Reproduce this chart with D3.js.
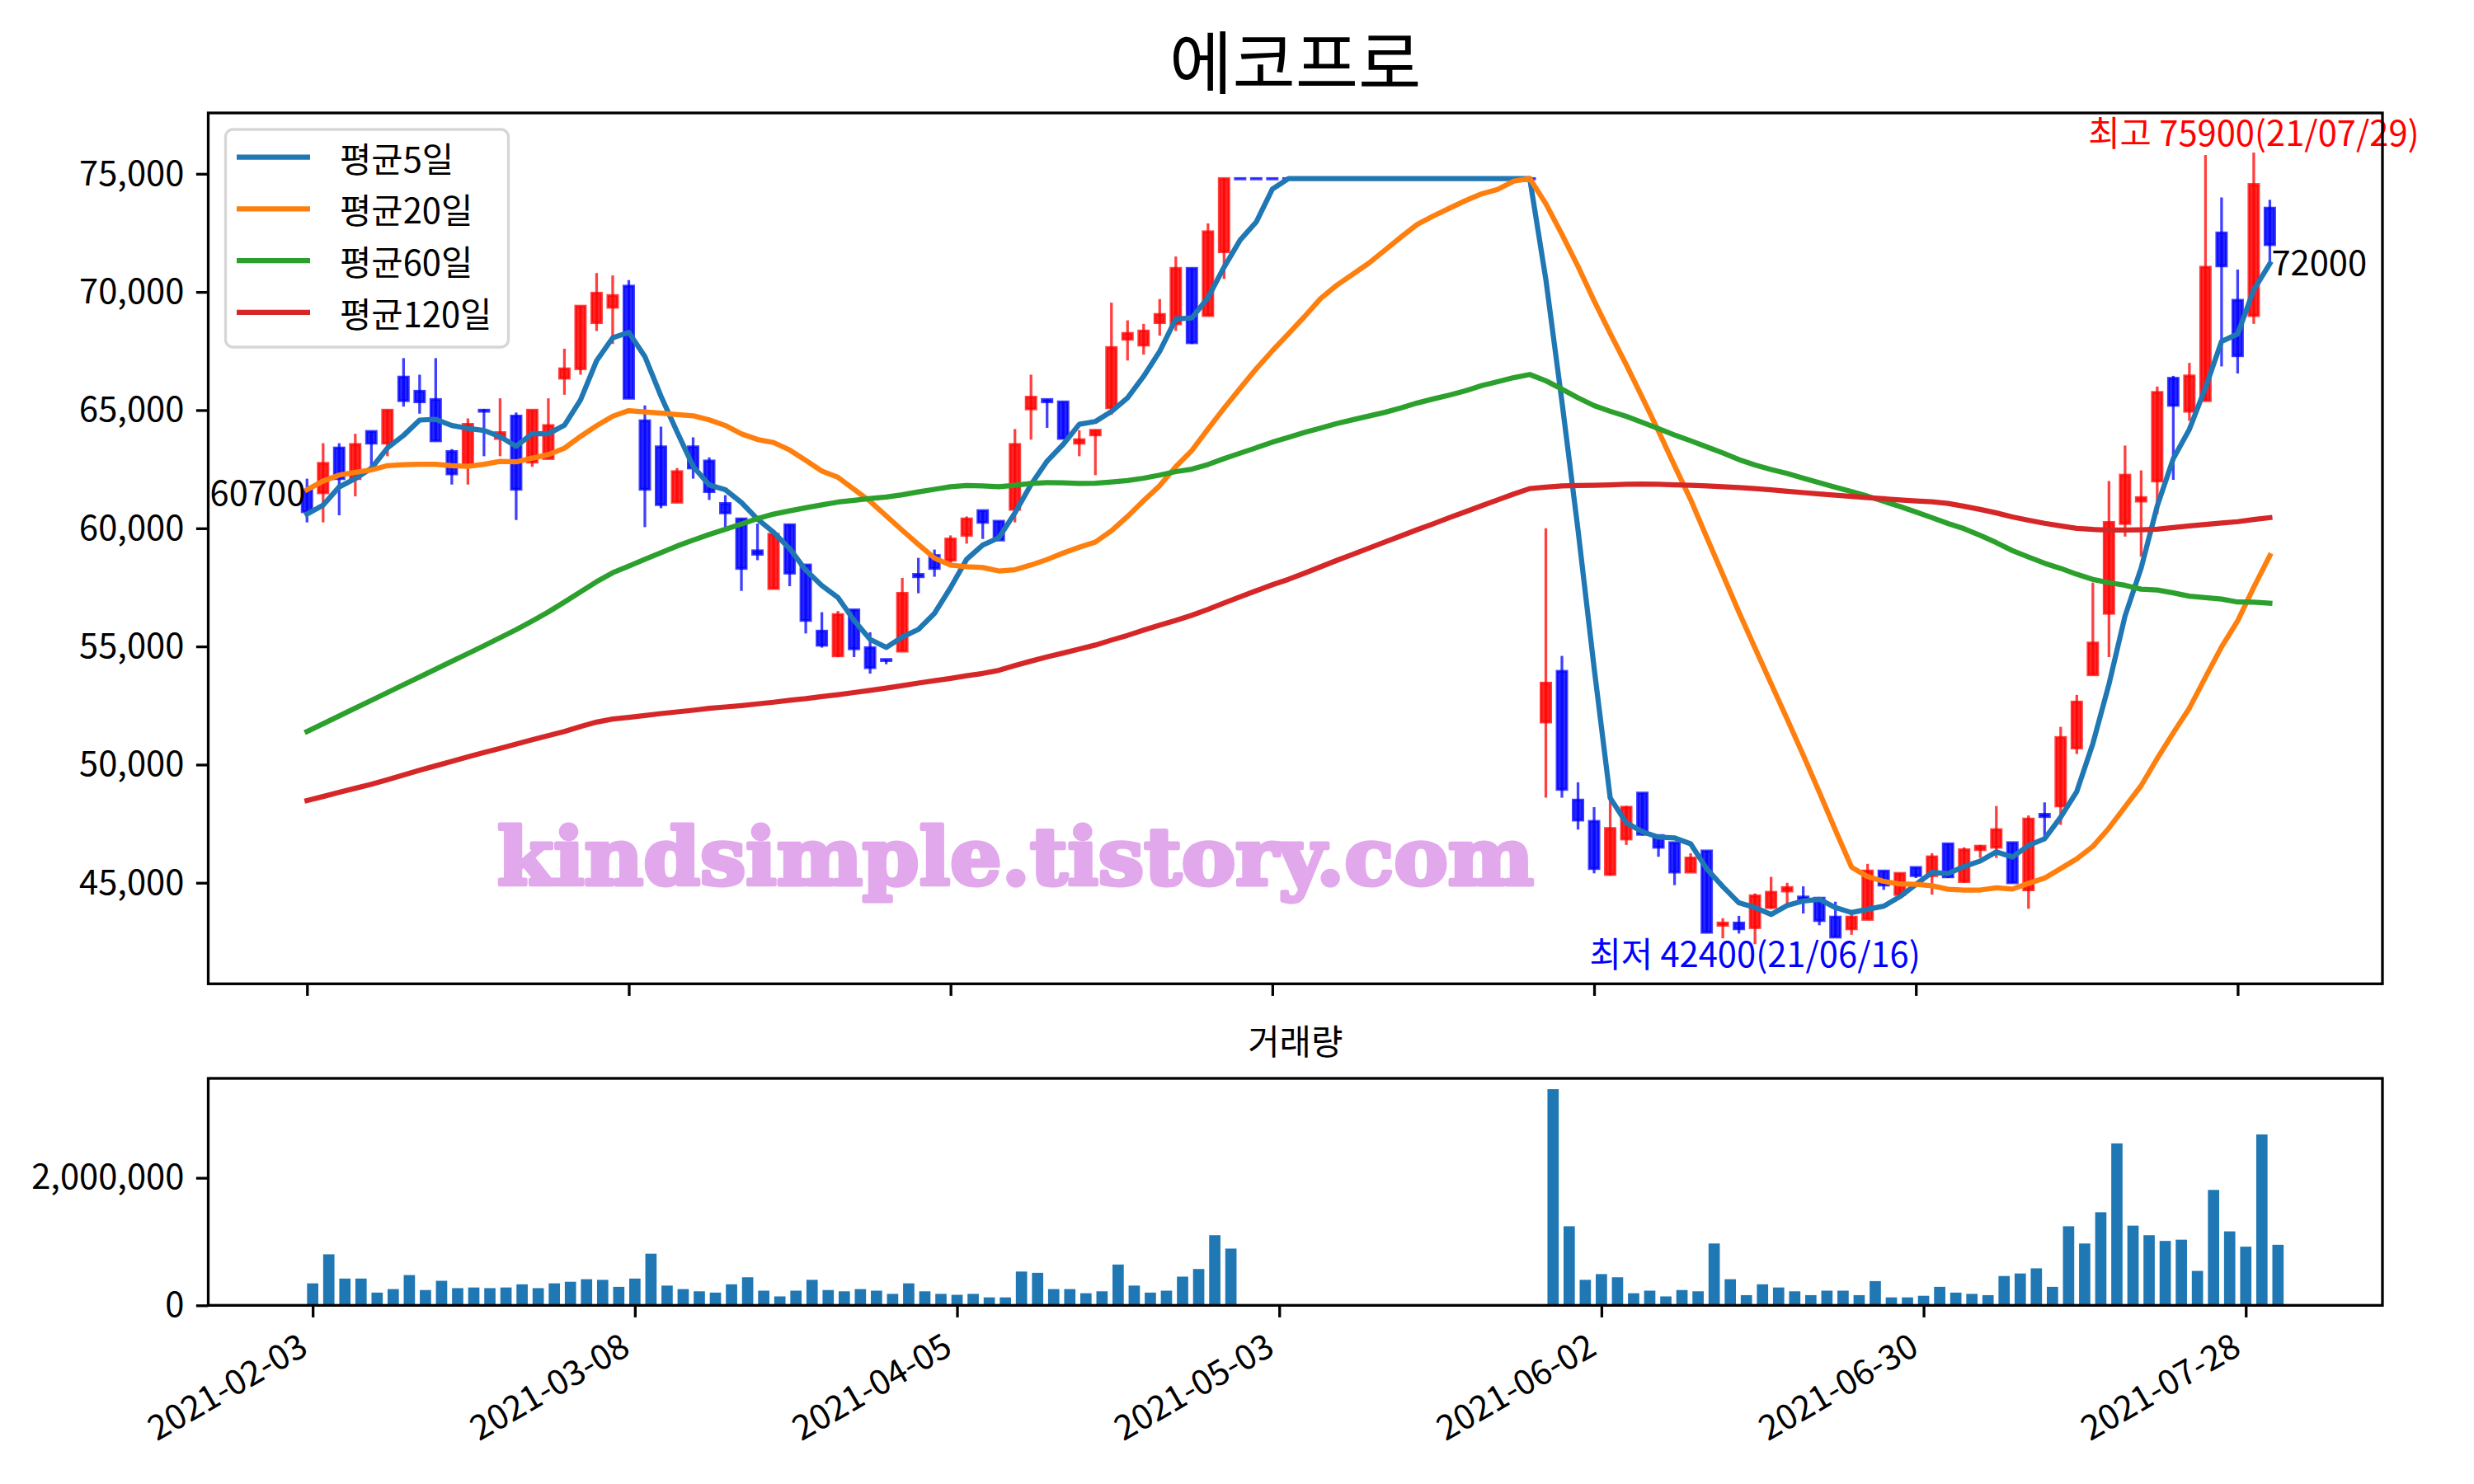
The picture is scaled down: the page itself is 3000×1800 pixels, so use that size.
<!DOCTYPE html>
<html><head><meta charset="utf-8">
<script src="https://cdnjs.cloudflare.com/ajax/libs/d3/7.8.5/d3.min.js"></script>
<style>body{margin:0;background:#fff} svg{display:block} text{font-family:"Noto Sans CJK KR","Noto Sans",sans-serif}</style>
</head><body>
<script>
// ---------------- DATA ----------------
const chartTitle = "에코프로";
const volumeTitle = "거래량";
const watermark = "kindsimple.tistory.com";
const tickIdx = [0, 20, 40, 60, 80, 100, 120];
const tickLabels = ["2021-02-03","2021-03-08","2021-04-05","2021-05-03","2021-06-02","2021-06-30","2021-07-28"];
const priceTicks = [45000, 50000, 55000, 60000, 65000, 70000, 75000];
const volumeTicks = [0, 2000000];
const legendNames = ["평균5일","평균20일","평균60일","평균120일"];
const firstCloseLabel = "60700";
const lastCloseLabel = "72000";
const highNote = { idx: 121, value: 75900, text: "최고 75900(21/07/29)" };
const lowNote  = { idx: 90,  value: 42400, text: "최저 42400(21/06/16)" };

const opens = [61600,61500,63400,62100,64100,63600,66400,65800,65450,63250,
62600,65000,63800,64750,62800,62950,66350,66750,68700,69350,
70250,64550,63450,61100,63450,62850,61050,60400,59050,57450,
60150,58450,55650,54600,56550,54950,54450,54800,58050,58850,
58650,59700,60750,60300,60800,65050,65450,65350,63600,63950,
65100,68000,67750,68700,68650,71000,69000,71700,
74800,74800,74800,74800,74800,74800,74800,74800,74800,74800,74800,74800,74800,74800,74800,74800,74800,74800,74800,
51800,53950,48500,47600,45350,46850,48800,47000,46700,45450,
46350,43200,43300,43100,43950,44650,44400,44350,43550,43050,
43450,45500,44500,45650,45300,46650,45050,46400,46500,46700,
44700,47900,48250,50700,53800,56400,60200,61150,62000,66350,
64950,65400,72500,69650,69000,73550];
const highs = [62100,63600,63600,64000,64100,65000,67200,66500,67200,63350,
64650,65050,65500,64900,65000,65500,67600,69400,70800,70700,
70500,65200,64300,62550,63850,63000,61400,60400,60200,59750,
60150,58450,56450,56500,56550,55600,54450,57900,58750,59100,
59700,60500,60750,60300,64200,66500,65450,65350,64150,64150,
69550,68800,68650,69700,71500,71000,72900,74800,
74800,74800,74800,74800,74800,74800,74800,74800,74800,74800,74800,74800,74800,74800,74800,74800,74800,74800,74800,
60000,54600,49250,48200,48500,48250,48800,47000,46700,46250,
46350,43500,43600,44550,45250,45000,44850,44350,44200,43850,
45800,45500,45400,45650,46250,46650,46500,46600,48250,46700,
47850,48400,51600,52950,57700,62000,63500,62450,66000,66450,
67000,75800,74000,70950,75900,73900];
const lows = [60250,60250,60550,61350,62600,63050,65150,64850,63700,61850,
61850,63050,63050,60350,62600,62950,65650,66500,68350,67800,
65500,60050,60850,61100,62100,61200,60050,57350,58650,57450,
57550,55550,54950,54550,54550,53850,54250,54800,57250,57950,
58400,59350,59550,59500,60250,63750,64250,63800,63050,62250,
64800,67100,67350,68150,68350,67800,69000,70550,
74800,74800,74800,74800,74800,74800,74800,74800,74800,74800,74800,74800,74800,74800,74800,74800,74800,74800,74800,
48600,48600,47250,45400,45300,46600,47000,46100,44900,45450,
42900,42650,42850,42400,43900,44100,43700,43200,42700,42800,
43450,44700,44500,45200,44500,45200,45000,46050,46050,45000,
43900,46900,47450,50450,53800,54550,59650,58800,60600,62050,
64550,65400,66850,66550,68650,71300];
const closes = [60700,62750,62100,63550,63600,65000,65400,65350,63700,62300,
64400,64950,64050,61650,65000,64350,66750,69400,69950,69850,
65500,61650,61000,62400,62550,61550,60650,58300,58900,59750,
58100,56100,55050,56350,54900,54100,54400,57250,57950,58300,
59550,60400,60250,59500,63550,65550,65350,63800,63750,64150,
67650,68250,68350,69050,71000,67850,72550,74800,
74800,74800,74800,74800,74800,74800,74800,74800,74800,74800,74800,74800,74800,74800,74800,74800,74800,74800,74800,
53450,48950,47650,45600,47300,48200,47050,46500,45450,46050,
42900,43300,43050,44450,44600,44800,44250,43400,42700,43550,
45500,44900,45400,45300,46100,45250,46400,46550,47250,45000,
47700,47800,51150,52650,55150,60250,62250,61300,65750,65200,
66450,71050,71100,67300,74550,72000];
const volumes = [345000,800000,420000,420000,200000,255000,475000,240000,385000,270000,
280000,270000,280000,330000,270000,345000,370000,410000,400000,290000,
420000,810000,310000,255000,220000,200000,330000,440000,230000,140000,
230000,400000,240000,220000,255000,230000,180000,345000,220000,180000,
165000,180000,125000,125000,530000,510000,255000,255000,190000,220000,
640000,310000,200000,230000,450000,570000,1100000,890000,
0,0,0,0,0,0,0,0,0,0,0,0,0,0,0,0,0,0,0,
3390000,1240000,400000,490000,440000,190000,230000,140000,240000,220000,
970000,410000,160000,330000,280000,220000,160000,230000,230000,160000,
380000,125000,125000,150000,290000,200000,180000,160000,460000,500000,
580000,290000,1240000,970000,1460000,2540000,1250000,1100000,1010000,1030000,
540000,1810000,1160000,920000,2680000,950000];
const ma5 = [60600,60980,61750,62100,62540,63400,63930,64580,64610,64350,
64230,64140,63880,63470,64010,64000,64360,65430,67090,68060,
68290,67270,65590,64080,62620,61830,61630,61090,60390,59830,
59140,58230,57580,57070,56100,55300,54960,55400,55720,56400,
57490,58690,59290,59600,60650,61850,62840,63550,64400,64520,
64940,65520,66430,67490,68860,68900,69760,71050,72200,72960,
74350,74800,74800,74800,74800,74800,74800,74800,74800,74800,
74800,74800,74800,74800,74800,74800,74800,70530,65360,59930,
54090,48590,47540,47160,46930,46900,46650,45590,44840,44150,
43950,43660,44040,44230,44300,43950,43740,43880,44010,44410,
44930,45440,45390,45690,45920,46310,46090,46580,46860,47780,
48860,50890,53400,56290,58320,60940,62950,64190,65950,67910,
68220,70090,71200];
const ma20 = [61630,62000,62250,62370,62470,62650,62690,62710,62710,62650,
62620,62710,62830,62810,62970,63120,63390,63890,64340,64740,
64980,64925,64870,64813,64760,64588,64350,63998,63758,63630,
63315,62873,62423,62158,61653,61140,60523,59915,59315,58738,
58440,58378,58340,58195,58245,58445,58680,58955,59198,59418,
59895,60503,61168,61803,62608,63295,64203,65080,65923,66748,
67510,68230,68958,69723,70285,70748,71220,71770,72323,72855,
73213,73540,73863,74150,74340,74688,74800,73733,72440,71083,
69623,68248,66918,65530,64115,62648,61210,59615,58040,56453,
54935,53425,51925,50398,48828,47223,45660,45263,45060,44948,
44933,44873,44725,44693,44695,44785,44733,44973,45198,45603,
46013,46540,47313,48213,49108,50260,51343,52390,53698,54983,
56083,57505,58843];
const ma60 = [51400,51730,52060,52390,52720,53050,53380,53710,54040,54370,
54700,55030,55370,55710,56080,56460,56880,57310,57740,58120,
58400,58690,58970,59250,59500,59740,59960,60180,60410,60600,
60740,60870,60990,61110,61180,61260,61320,61420,61540,61650,
61760,61810,61790,61760,61820,61900,61930,61920,61900,61910,
61960,62020,62120,62250,62400,62500,62700,62950,63180,63408,
63643,63844,64056,64243,64430,64593,64750,64907,65092,65300,
65474,65638,65817,66036,66200,66374,66508,66242,65892,65522,
65191,64951,64738,64482,64215,63947,63703,63447,63187,62908,
62681,62489,62318,62117,61925,61735,61554,61358,61141,60926,
60688,60450,60200,59982,59698,59393,59054,58786,58520,58303,
58053,57835,57700,57587,57425,57390,57268,57128,57066,57004,
56879,56875,56828];
const ma120 = [48480,48650,48830,49000,49170,49360,49560,49760,49950,50140,
50330,50510,50690,50870,51050,51230,51400,51610,51800,51930,
52000,52080,52160,52230,52300,52380,52440,52500,52570,52640,
52720,52790,52880,52960,53050,53140,53240,53340,53450,53550,
53650,53760,53860,53990,54190,54380,54560,54720,54890,55060,
55270,55470,55690,55900,56100,56320,56570,56840,57100,57360,
57610,57840,58100,58370,58640,58900,59160,59420,59680,59940,
60190,60450,60700,60950,61200,61450,61680,61740,61790,61810,
61820,61840,61860,61870,61860,61840,61820,61790,61760,61720,
61680,61630,61570,61510,61450,61400,61350,61300,61250,61200,
61160,61120,61050,60930,60800,60650,60480,60340,60210,60100,
60000,59950,59930,59930,59940,59960,60030,60100,60160,60220,
60280,60370,60450];

// ---------------- DRAWING ----------------
const FS = 41.7;
const L = 252.5, R = 2889, T = 137, B = 1193.3, VT = 1308, VB = 1583.3;
const TICK = 14.6, LW = 3.3;
const svg = d3.select("body").append("svg").attr("width",3000).attr("height",1800);
svg.append("rect").attr("width",3000).attr("height",1800).attr("fill","#fff");

const x = d3.scaleLinear().domain([-6.14, 129.0]).range([L, R]);
const y = d3.scaleLinear().domain([40725, 77575]).range([B, T]);
const xv = d3.scaleLinear().domain([-6.485, 128.485]).range([L, R]);
const yv = d3.scaleLinear().domain([0, d3.max(volumes) * 1.05]).range([VB, VT]);
const step = x(1) - x(0), vstep = xv(1) - xv(0);
const idx = d3.range(closes.length);

// title
svg.append("text").attr("x", (L+R)/2).attr("y", 107).attr("text-anchor","middle")
  .attr("font-size", 83).attr("fill","#000").text(chartTitle);

// watermark
svg.append("text").attr("x", 603).attr("y", 1073)
  .attr("textLength", 1257).attr("lengthAdjust","spacingAndGlyphs")
  .style("font-family", '"DejaVu Serif", "Liberation Serif", serif').style("font-weight", "bold")
  .attr("font-size", 96).attr("fill", "#e2a8ec").attr("stroke", "#e2a8ec").attr("stroke-width", 5)
  .attr("stroke-linejoin","round").text(watermark);

// candles
const cg = svg.append("g");
idx.forEach(i => {
  const col = closes[i] > opens[i] ? "#ff0000" : "#0000ff";
  cg.append("line").attr("x1", x(i)).attr("x2", x(i))
    .attr("y1", y(highs[i])).attr("y2", y(lows[i]))
    .attr("stroke", col).attr("stroke-opacity", 0.75).attr("stroke-width", LW);
  const top = y(Math.max(opens[i], closes[i])), bot = y(Math.min(opens[i], closes[i]));
  cg.append("rect").attr("x", x(i) - 0.3*step).attr("width", 0.6*step)
    .attr("y", top).attr("height", Math.max(bot - top, 0.5))
    .attr("fill", col).attr("fill-opacity", 0.85)
    .attr("stroke", col).attr("stroke-opacity", 0.75).attr("stroke-width", LW);
});

// moving averages
const maColors = ["#1f77b4","#ff7f0e","#2ca02c","#d62728"];
const line = d3.line().x((d,i) => x(i)).y(d => y(d));
[ma5, ma20, ma60, ma120].forEach((s, k) => {
  svg.append("path").attr("d", line(s)).attr("fill","none")
    .attr("stroke", maColors[k]).attr("stroke-width", 6.25)
    .attr("stroke-linejoin","round").attr("stroke-linecap","square");
});

// annotations
svg.append("text").attr("x", x(0) - 2).attr("y", y(closes[0]) - 8)
  .attr("text-anchor","end").attr("font-size", FS).attr("fill","#000").text(firstCloseLabel);
svg.append("text").attr("x", x(closes.length-1) + 2).attr("y", y(closes[closes.length-1]) + 37)
  .attr("text-anchor","start").attr("font-size", FS).attr("fill","#000").text(lastCloseLabel);
svg.append("text").attr("x", x(highNote.idx)).attr("y", y(highNote.value) - 8)
  .attr("text-anchor","middle").attr("font-size", FS).attr("fill","#ff0000").text(highNote.text);
svg.append("text").attr("x", x(lowNote.idx)).attr("y", y(lowNote.value) + 28)
  .attr("text-anchor","middle").attr("font-size", FS).attr("fill","#0000ff").text(lowNote.text);

// main axes
const ay = svg.append("g").attr("transform",`translate(${L},0)`)
  .call(d3.axisLeft(y).tickValues(priceTicks).tickFormat(d3.format(",")).tickSize(TICK).tickPadding(TICK));
const ax = svg.append("g").attr("transform",`translate(0,${B})`)
  .call(d3.axisBottom(x).tickValues(tickIdx).tickFormat("").tickSize(TICK));
svg.append("rect").attr("x",L).attr("y",T).attr("width",R-L).attr("height",B-T)
  .attr("fill","none").attr("stroke","#000").attr("stroke-width",LW);

// legend
const lg = svg.append("g");
lg.append("rect").attr("x",273.5).attr("y",157).attr("width",343).attr("height",264).attr("rx",9)
  .attr("fill","#fff").attr("fill-opacity",0.8).attr("stroke","#cccccc").attr("stroke-opacity",0.8).attr("stroke-width",LW);
legendNames.forEach((n,k) => {
  const ly = 190.7 + 62.7*k;
  lg.append("line").attr("x1",287).attr("x2",376).attr("y1",ly).attr("y2",ly)
    .attr("stroke",maColors[k]).attr("stroke-width",6.25);
  lg.append("text").attr("x",412).attr("y",ly).attr("dominant-baseline","central")
    .attr("font-size",FS).attr("fill","#000").text(n);
});

// volume panel
svg.append("text").attr("x",(L+R)/2).attr("y",1279).attr("text-anchor","middle")
  .attr("font-size",FS).attr("fill","#000").text(volumeTitle);
svg.append("g").selectAll("rect").data(volumes).join("rect")
  .attr("x",(d,i) => xv(i) - 0.35*vstep).attr("width", 0.7*vstep)
  .attr("y", d => yv(d)).attr("height", d => yv(0) - yv(d)).attr("fill","#1f77b4");
const vay = svg.append("g").attr("transform",`translate(${L},0)`)
  .call(d3.axisLeft(yv).tickValues(volumeTicks).tickFormat(d3.format(",")).tickSize(TICK).tickPadding(TICK));
const vax = svg.append("g").attr("transform",`translate(0,${VB})`)
  .call(d3.axisBottom(xv).tickValues(tickIdx).tickFormat((d,i) => tickLabels[i]).tickSize(TICK));
vax.selectAll("text").attr("x",0).attr("y",0).attr("dy",null)
  .attr("transform",`translate(-4,${TICK*2+29}) rotate(-30)`).style("text-anchor","end");
svg.append("rect").attr("x",L).attr("y",VT).attr("width",R-L).attr("height",VB-VT)
  .attr("fill","none").attr("stroke","#000").attr("stroke-width",LW);

[ay, ax, vay, vax].forEach(g => {
  g.select(".domain").remove();
  g.selectAll(".tick line").attr("stroke","#000").attr("stroke-width",LW);
  g.selectAll("text").attr("font-size",FS).attr("fill","#000");
});
</script>
</body></html>
